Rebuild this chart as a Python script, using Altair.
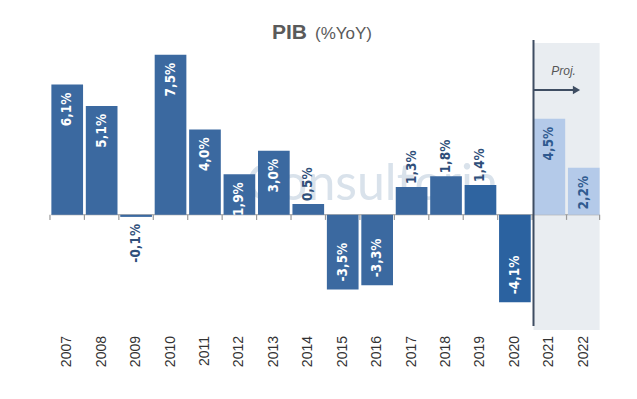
import altair as alt
import pandas as pd

years = ["2007", "2008", "2009", "2010", "2011", "2012", "2013", "2014",
         "2015", "2016", "2017", "2018", "2019", "2020", "2021", "2022"]
values = [6.1, 5.1, -0.1, 7.5, 4.0, 1.9, 3.0, 0.5,
          -3.5, -3.3, 1.3, 1.8, 1.4, -4.1, 4.5, 2.2]
bar_colors = ["#3b69a0"] * 12 + ["#2f64a0", "#2b62a0", "#b4cae9", "#b4cae9"]
# label group: pin = inside positive (white), nin = inside negative (white),
# pout = outside positive (dark), nout = outside negative (dark), proj = inside dark
label_group = ["pin", "pin", "nout", "pin", "pin", "pin", "pin", "pout",
               "nin", "nin", "pout", "pout", "pout", "nin", "proj", "proj"]

df = pd.DataFrame({
    "year": years,
    "value": values,
    "color": bar_colors,
    "grp": label_group,
    "label": [f"{v:.1f}".replace(".", ",") + "%" for v in values],
})

W, H = 551, 287
YDOM = [-5.4, 8.05]
yscale = alt.Scale(domain=YDOM, nice=False, zero=False)
xscale = alt.Scale(paddingInner=0.08, paddingOuter=0.04)
LABEL_FONT = "DejaVu Sans Condensed"
AXIS_GRAY = "#9a9a9a"

base = alt.Chart(df)

def xd(d, bp):
    return alt.X(datum=d, bandPosition=bp, scale=xscale, type="ordinal", axis=None)

def yd(v):
    return alt.Y(datum=v, scale=yscale, axis=None)

one = pd.DataFrame({"a": [0]})

# projection shading
shade = alt.Chart(one).mark_rect(color="#e9edf1").encode(
    x=xd("2021", 0),
    x2=alt.X2(datum="2022", bandPosition=1),
    y=alt.value(0),
    y2=alt.value(H),
)

watermark = alt.Chart(pd.DataFrame({"t": ["Consultoria"]})).mark_text(
    fontSize=50, color="#d9e2eb", font="Lato", align="center", baseline="middle"
).encode(text="t:N", x=alt.value(322), y=alt.value(142))

bars = base.mark_bar().encode(
    x=alt.X("year:O", sort=years, scale=xscale, axis=None),
    y=alt.Y("value:Q", scale=yscale, axis=None),
    y2=alt.datum(0),
    color=alt.Color("color:N", scale=None),
)

zero_line = alt.Chart(one).mark_rule(color=AXIS_GRAY, strokeWidth=1.2).encode(
    x=xd("2007", 0),
    x2=alt.X2(datum="2022", bandPosition=1),
    y=yd(0),
)

ticks = base.mark_rule(color=AXIS_GRAY, strokeWidth=1.2, xOffset=-1.4).encode(
    x=alt.X("year:O", sort=years, scale=xscale, axis=None, bandPosition=0),
    y=yd(0),
    y2=alt.Y2(datum=-0.24),
)
end_tick = alt.Chart(one).mark_rule(color=AXIS_GRAY, strokeWidth=1.2).encode(
    x=xd("2022", 1.0),
    y=yd(0),
    y2=alt.Y2(datum=-0.24),
)

year_labels = base.mark_text(
    angle=270, align="right", baseline="middle", fontSize=14,
    color="#333333", font="Liberation Sans"
).encode(
    x=alt.X("year:O", sort=years, scale=xscale, axis=None),
    y=alt.value(H + 6),
    text="year:N",
)

def lab(grp, align, dx, color):
    return base.transform_filter(alt.datum.grp == grp).mark_text(
        angle=270, align=align, baseline="middle", dx=dx, fontSize=13.5,
        font=LABEL_FONT, fontWeight="bold", color=color
    ).encode(
        x=alt.X("year:O", sort=years, scale=xscale, axis=None),
        y=alt.Y("value:Q", scale=yscale, axis=None),
        text="label:N",
    )

labels = [
    lab("pin", "right", -8, "white"),
    lab("nin", "left", 8, "white"),
    lab("pout", "left", 3, "#2f4f7a"),
    lab("nout", "right", -7, "#2f4f7a"),
    lab("proj", "right", -8, "#2f5a8f"),
]

vline = alt.Chart(one).mark_rule(color="#3e4d62", strokeWidth=2).encode(
    x=xd("2021", 0),
    y=alt.value(-3),
    y2=alt.value(H - 4),
)

arrow = alt.Chart(one).mark_rule(color="#3e4d62", strokeWidth=2).encode(
    x=xd("2021", 0),
    x2=alt.X2(datum="2022", bandPosition=0.22),
    y=yd(5.85),
)
arrow_head = alt.Chart(one).mark_point(
    shape="triangle-right", filled=True, color="#3e4d62", size=70, opacity=1
).encode(
    x=xd("2022", 0.27),
    y=yd(5.85),
)
proj_text = alt.Chart(pd.DataFrame({"t": ["Proj."]})).mark_text(
    fontSize=12, fontStyle="italic", color="#555555", font="Liberation Sans",
    align="center", baseline="middle"
).encode(
    x=xd("2021", 0.95),
    y=yd(6.75),
    text="t:N",
)

title_main = alt.Chart(pd.DataFrame({"t": ["PIB"]})).mark_text(
    fontSize=21, fontWeight="bold", color="#5a5a5a", font="Liberation Sans",
    align="right", baseline="alphabetic"
).encode(text="t:N", x=alt.value(257), y=alt.value(-4))
title_sub = alt.Chart(pd.DataFrame({"t": ["(%YoY)"]})).mark_text(
    fontSize=17, color="#5a5a5a", font="Liberation Sans",
    align="left", baseline="alphabetic"
).encode(text="t:N", x=alt.value(265), y=alt.value(-4))

chart = alt.layer(
    shade, watermark, zero_line, ticks, end_tick, bars, year_labels, *labels,
    vline, arrow, arrow_head, proj_text, title_main, title_sub
).properties(
    width=W, height=H,
    autosize=alt.AutoSizeParams(type="none"),
    padding={"left": 42, "top": 35, "right": 20, "bottom": 60},
).configure_view(stroke=None)

chart.save("out.html", embed_options={"renderer": "svg", "actions": False})
